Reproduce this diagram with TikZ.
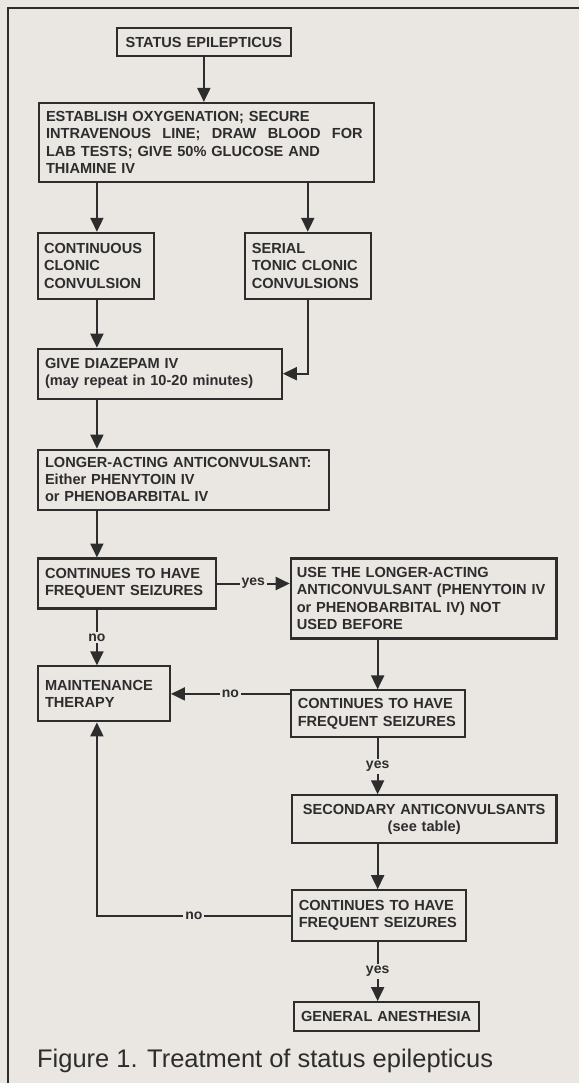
\documentclass[tikz,border=0pt]{standalone}
\usepackage{fontspec}
\setmainfont{Liberation Sans}
\usetikzlibrary{arrows.meta}
\definecolor{paper}{RGB}{234,231,226}
\definecolor{ink}{RGB}{45,45,45}

\begin{document}
\begin{tikzpicture}[x=1pt,y=-1pt,
 box/.style={draw=ink,line width=2.1pt,inner xsep=7pt,inner ysep=2pt,anchor=north west,align=left,text=ink,font=\fontsize{14.6}{17.2}\selectfont\bfseries},
 flow/.style={-{Triangle[length=14pt,width=13pt]},line width=2pt,draw=ink},
 lbl/.style={fill=paper,inner sep=2pt,text=ink,font=\fontsize{14}{15}\selectfont\bfseries}]
\fill[paper] (0,0) rectangle (580,1084);
\draw[ink,line width=2pt] (8,1084) -- (8,8) -- (580,8);
\coordinate (lcol) at (97,0);
\coordinate (rcol) at (378,0);

\node[box,text width=160pt,minimum height=28pt,align=center] (status) at (116,27) {STATUS EPILEPTICUS};
\node[box,text width=321pt,minimum height=79pt] (est) at (38,102)
 {ESTABLISH OXYGENATION; SECURE\\\makebox[317pt][s]{INTRAVENOUS\hfill LINE;\hfill DRAW\hfill BLOOD\hfill FOR}\\LAB TESTS; GIVE 50\% GLUCOSE AND\\THIAMINE IV};
\node[box,inner xsep=6pt,text width=104pt,minimum height=66pt] (cont) at (37,232) {CONTINUOUS\\CLONIC\\CONVULSION};
\node[box,text width=112pt,minimum height=66pt] (serial) at (244,232) {SERIAL\\TONIC CLONIC\\CONVULSIONS};
\node[box,text width=230pt,minimum height=50pt] (diaz) at (37,348) {GIVE DIAZEPAM IV\\(may repeat in 10-20 minutes)};
\node[box,text width=277pt,minimum height=60pt] (longer) at (37,449)
 {LONGER-ACTING ANTICONVULSANT:\\Either PHENYTOIN IV\\or PHENOBARBITAL IV};
\node[box,text width=164pt,minimum height=50pt] (c1) at (37,558) {CONTINUES TO HAVE\\FREQUENT SEIZURES};
\node[box,inner xsep=6pt,text width=254pt,minimum height=80pt] (use) at (290,558)
 {USE THE LONGER-ACTING\\ANTICONVULSANT (PHENYTOIN IV\\or PHENOBARBITAL IV) NOT\\USED BEFORE};
\node[box,text width=118pt,minimum height=55pt] (maint) at (37,666) {MAINTENANCE\\THERAPY};
\node[box,text width=160pt,minimum height=47pt] (c2) at (290,690) {CONTINUES TO HAVE\\FREQUENT SEIZURES};
\node[box,text width=251pt,minimum height=48pt,align=center] (sec) at (291,795) {SECONDARY ANTICONVULSANTS\\(see table)};
\node[box,text width=160pt,minimum height=51pt] (c3) at (291,890) {CONTINUES TO HAVE\\FREQUENT SEIZURES};
\node[box,text width=171pt,minimum height=29pt,align=center] (gen) at (293,1002) {GENERAL ANESTHESIA};
\node[anchor=base west,inner sep=0pt,text=ink,font=\fontsize{25.5}{28}\selectfont] (caption) at (37,1068) {Figure 1. Treatment of status epilepticus};

\draw[flow] (status) -- (status |- est.north);
\draw[flow] (est.south -| lcol) -- (cont.north -| lcol);
\draw[flow] (est.south -| serial) -- (serial.north);
\draw[flow] (cont.south -| lcol) -- (diaz.north -| lcol);
\draw[flow] (serial.south) |- (diaz.east);
\draw[flow] (diaz.south -| lcol) -- (longer.north -| lcol);
\draw[flow] (longer.south -| lcol) -- (c1.north -| lcol);
\draw[flow] (c1.east) -- node[lbl]{yes} (c1.east -| use.west);
\draw[flow] (c1.south -| lcol) -- node[lbl]{no} (maint.north -| lcol);
\draw[flow] (use.south -| rcol) -- (c2.north -| rcol);
\draw[flow] (maint.east -| c2.west) -- node[lbl]{no} (maint.east);
\draw[flow] (c2.south -| rcol) -- node[lbl]{yes} (sec.north -| rcol);
\draw[flow] (sec.south -| rcol) -- (c3.north -| rcol);
\draw[flow] (c3.west) -- node[lbl]{no} (c3.west -| lcol) -- (maint.south -| lcol);
\draw[flow] (c3.south -| rcol) -- node[lbl]{yes} (gen.north -| rcol);
\end{tikzpicture}
\end{document}
